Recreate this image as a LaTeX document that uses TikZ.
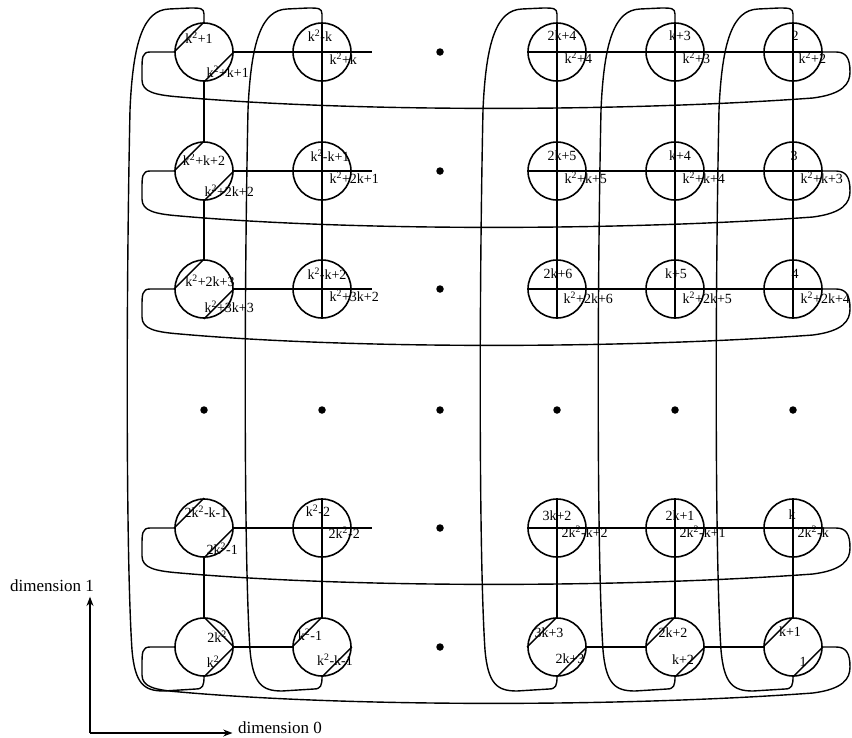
\documentclass[tikz,border=0pt]{standalone}
\usepackage{fontspec}
\setmainfont{Liberation Serif}
\usetikzlibrary{arrows.meta,positioning}
\newcommand{\sq}{\textsuperscript{2}}

\begin{document}
\begin{tikzpicture}[x=1pt,y=-1pt,line width=1.4pt,
    every node/.style={inner sep=0pt},
    nd/.style={draw,circle,minimum size=58pt,line width=1.6pt},
    lbl/.style={font=\fontsize{14}{14}\selectfont},
    axlbl/.style={font=\fontsize{17}{17}\selectfont},
    dotn/.style={fill,circle,minimum size=7.5pt}]
  \useasboundingbox (0,0) rectangle (852,737);

  % switches
  \foreach \r/\y in {1/52,2/171,3/289,5/528,6/647}
    \foreach \c/\x in {1/204,2/322,4/557,5/675,6/793}
      \node[nd] (n\r\c) at (\x,\y) {};

  % dots
  \foreach \y [count=\i] in {52,171,289,528,647}
    \node[dotn] (dc\i) at (440,\y) {};
  \foreach \x [count=\i] in {204,322,440,557,675,793}
    \node[dotn] (dr\i) at (\x,410) {};

  % upper labels
  \foreach \r/\c/\dx/\dy/\t in {1/1/-5/-14/{k\sq+1},1/2/-2/-16/{k\sq-k},1/4/5/-16/{2k+4},1/5/5/-16/{k+3},1/6/2/-16/{2},
      2/1/0/-11/{k\sq+k+2},2/2/8/-15/{k\sq-k+1},2/4/5/-15/{2k+5},2/5/5/-15/{k+4},2/6/1/-15/{3},
      3/1/6/-8/{k\sq+2k+3},3/2/5/-15/{k\sq-k+2},3/4/1/-15/{2k+6},3/5/1/-15/{k+5},3/6/2/-15/{4},
      5/1/2/-16/{2k\sq-k-1},5/2/-4/-17/{k\sq-2},5/4/0/-12/{3k+2},5/5/5/-12/{2k+1},5/6/-1/-13/{k},
      6/1/13/-10/{2k\sq},6/2/-12/-12/{k\sq-1},6/4/-8/-14/{3k+3},6/5/-2/-14/{2k+2},6/6/-3/-15/{k+1}}
    \node[lbl] (la\r\c) at ([shift={(\dx,\dy)}]n\r\c.center) {\t};

  % lower labels
  \foreach \r/\c/\dx/\dy/\a/\t in {1/1/2/20/west/{k\sq+k+1},1/2/7/7/west/{k\sq+k},1/4/7/6/west/{k\sq+4},1/5/7/6/west/{k\sq+3},1/6/5/6/west/{k\sq+2},
      2/1/0/20/west/{k\sq+2k+2},2/2/7/7/west/{k\sq+2k+1},2/4/7/7/west/{k\sq+k+5},2/5/7/7/west/{k\sq+k+4},2/6/7/7/west/{k\sq+k+3},
      3/1/0/18/west/{k\sq+3k+3},3/2/7/7/west/{k\sq+3k+2},3/4/6/9/west/{k\sq+2k+6},3/5/7/9/west/{k\sq+2k+5},3/6/7/9/west/{k\sq+2k+4},
      5/1/2/21/west/{2k\sq-1},5/2/6/5/west/{2k\sq-2},5/4/4/4/west/{2k\sq-k+2},5/5/4/4/west/{2k\sq-k+1},5/6/4/4/west/{2k\sq-k},
      6/1/9/15/center/{k\sq},6/2/13/13/center/{k\sq-k-1},6/4/13/12/center/{2k+3},6/5/8/13/center/{k+2},6/6/10/15/center/{1}}
    \node[lbl,anchor=\a] (lb\r\c) at ([shift={(\dx,\dy)}]n\r\c.center) {\t};

  % straight crossings
  \foreach \r in {1,2,3,5}
    \foreach \c in {2,4,5,6} {
      \draw (n\r\c.west) -- (n\r\c.east);
      \draw (n\r\c.north) -- (n\r\c.south);
    }

  % turning switches
  \foreach \r in {1,2,3,5} {
    \draw (n\r1.west) -- (n\r1.north);
    \draw (n\r1.east) -- (n\r1.south);
  }
  \draw (n61.north) -- (n61.east);
  \draw (n61.east) -- (n61.south);
  \draw (n62.west) -- (n62.north);
  \draw (n62.south) -- (n62.east);
  \draw (n64.west) -- (n64.north);
  \draw (n64.east) -- (n64.south);
  \draw (n65.west) -- (n65.north);
  \draw (n65.south) -- (n65.east);
  \draw (n66.west) -- (n66.north);
  \draw (n66.east) -- (n66.south);

  % links inside rows and columns
  \foreach \r in {1,2,3,5,6} {
    \draw (n\r1.east) -- (n\r2.west);
    \draw (n\r4.east) -- (n\r5.west);
    \draw (n\r5.east) -- (n\r6.west);
  }
  \foreach \r in {1,2,3,5}
    \draw (n\r2.east) -- ++(20,0);
  \foreach \c in {1,2,4,5,6} {
    \draw (n1\c.south) -- (n2\c.north);
    \draw (n2\c.south) -- (n3\c.north);
    \draw (n5\c.south) -- (n6\c.north);
  }

  % wrap-around of the rows
  \foreach \r/\y in {1/52,2/171,3/289,5/528,6/647}
    \draw (n\r1.west) -- (150,\y) .. controls (142,\y) and (142,\y+6) .. (142,\y+18)
      -- (142,\y+28) .. controls (142,\y+40) and (155,\y+43) .. (180,\y+45)
      .. controls (350,\y+60) and (620,\y+60) .. (813,\y+46)
      .. controls (843,\y+42) and (850,\y+32) .. (850,\y+20)
      .. controls (850,\y+6) and (846,\y) .. (836,\y) -- (n\r6.east);

  % wrap-around of the columns
  \foreach \c/\x in {1/204,2/322,4/557,5/675,6/793}
    \draw (n1\c.north) -- (\x,14) .. controls (\x,8) and (\x-4,8) .. (\x-14,8)
      -- (\x-35,9) .. controls (\x-60,10) and (\x-71,40) .. (\x-74,110)
      .. controls (\x-78,300) and (\x-78,560) .. (\x-72,650)
      .. controls (\x-69,684) and (\x-60,691) .. (\x-40,691)
      -- (\x-8,689) .. controls (\x-1,689) and (\x,685) .. (n6\c.south);

  % axes
  \node[axlbl] (dim1) at (52,586) {dimension 1};
  \node[axlbl] (dim0) at (280,728) {dimension 0};
  \coordinate (orig) at (90,733);
  \draw[-{Stealth}] (orig) -- ([yshift=-4pt]orig |- dim1.south);
  \draw[-{Stealth}] (orig) -- ([xshift=-5pt]dim0.west |- orig);
\end{tikzpicture}
\end{document}
